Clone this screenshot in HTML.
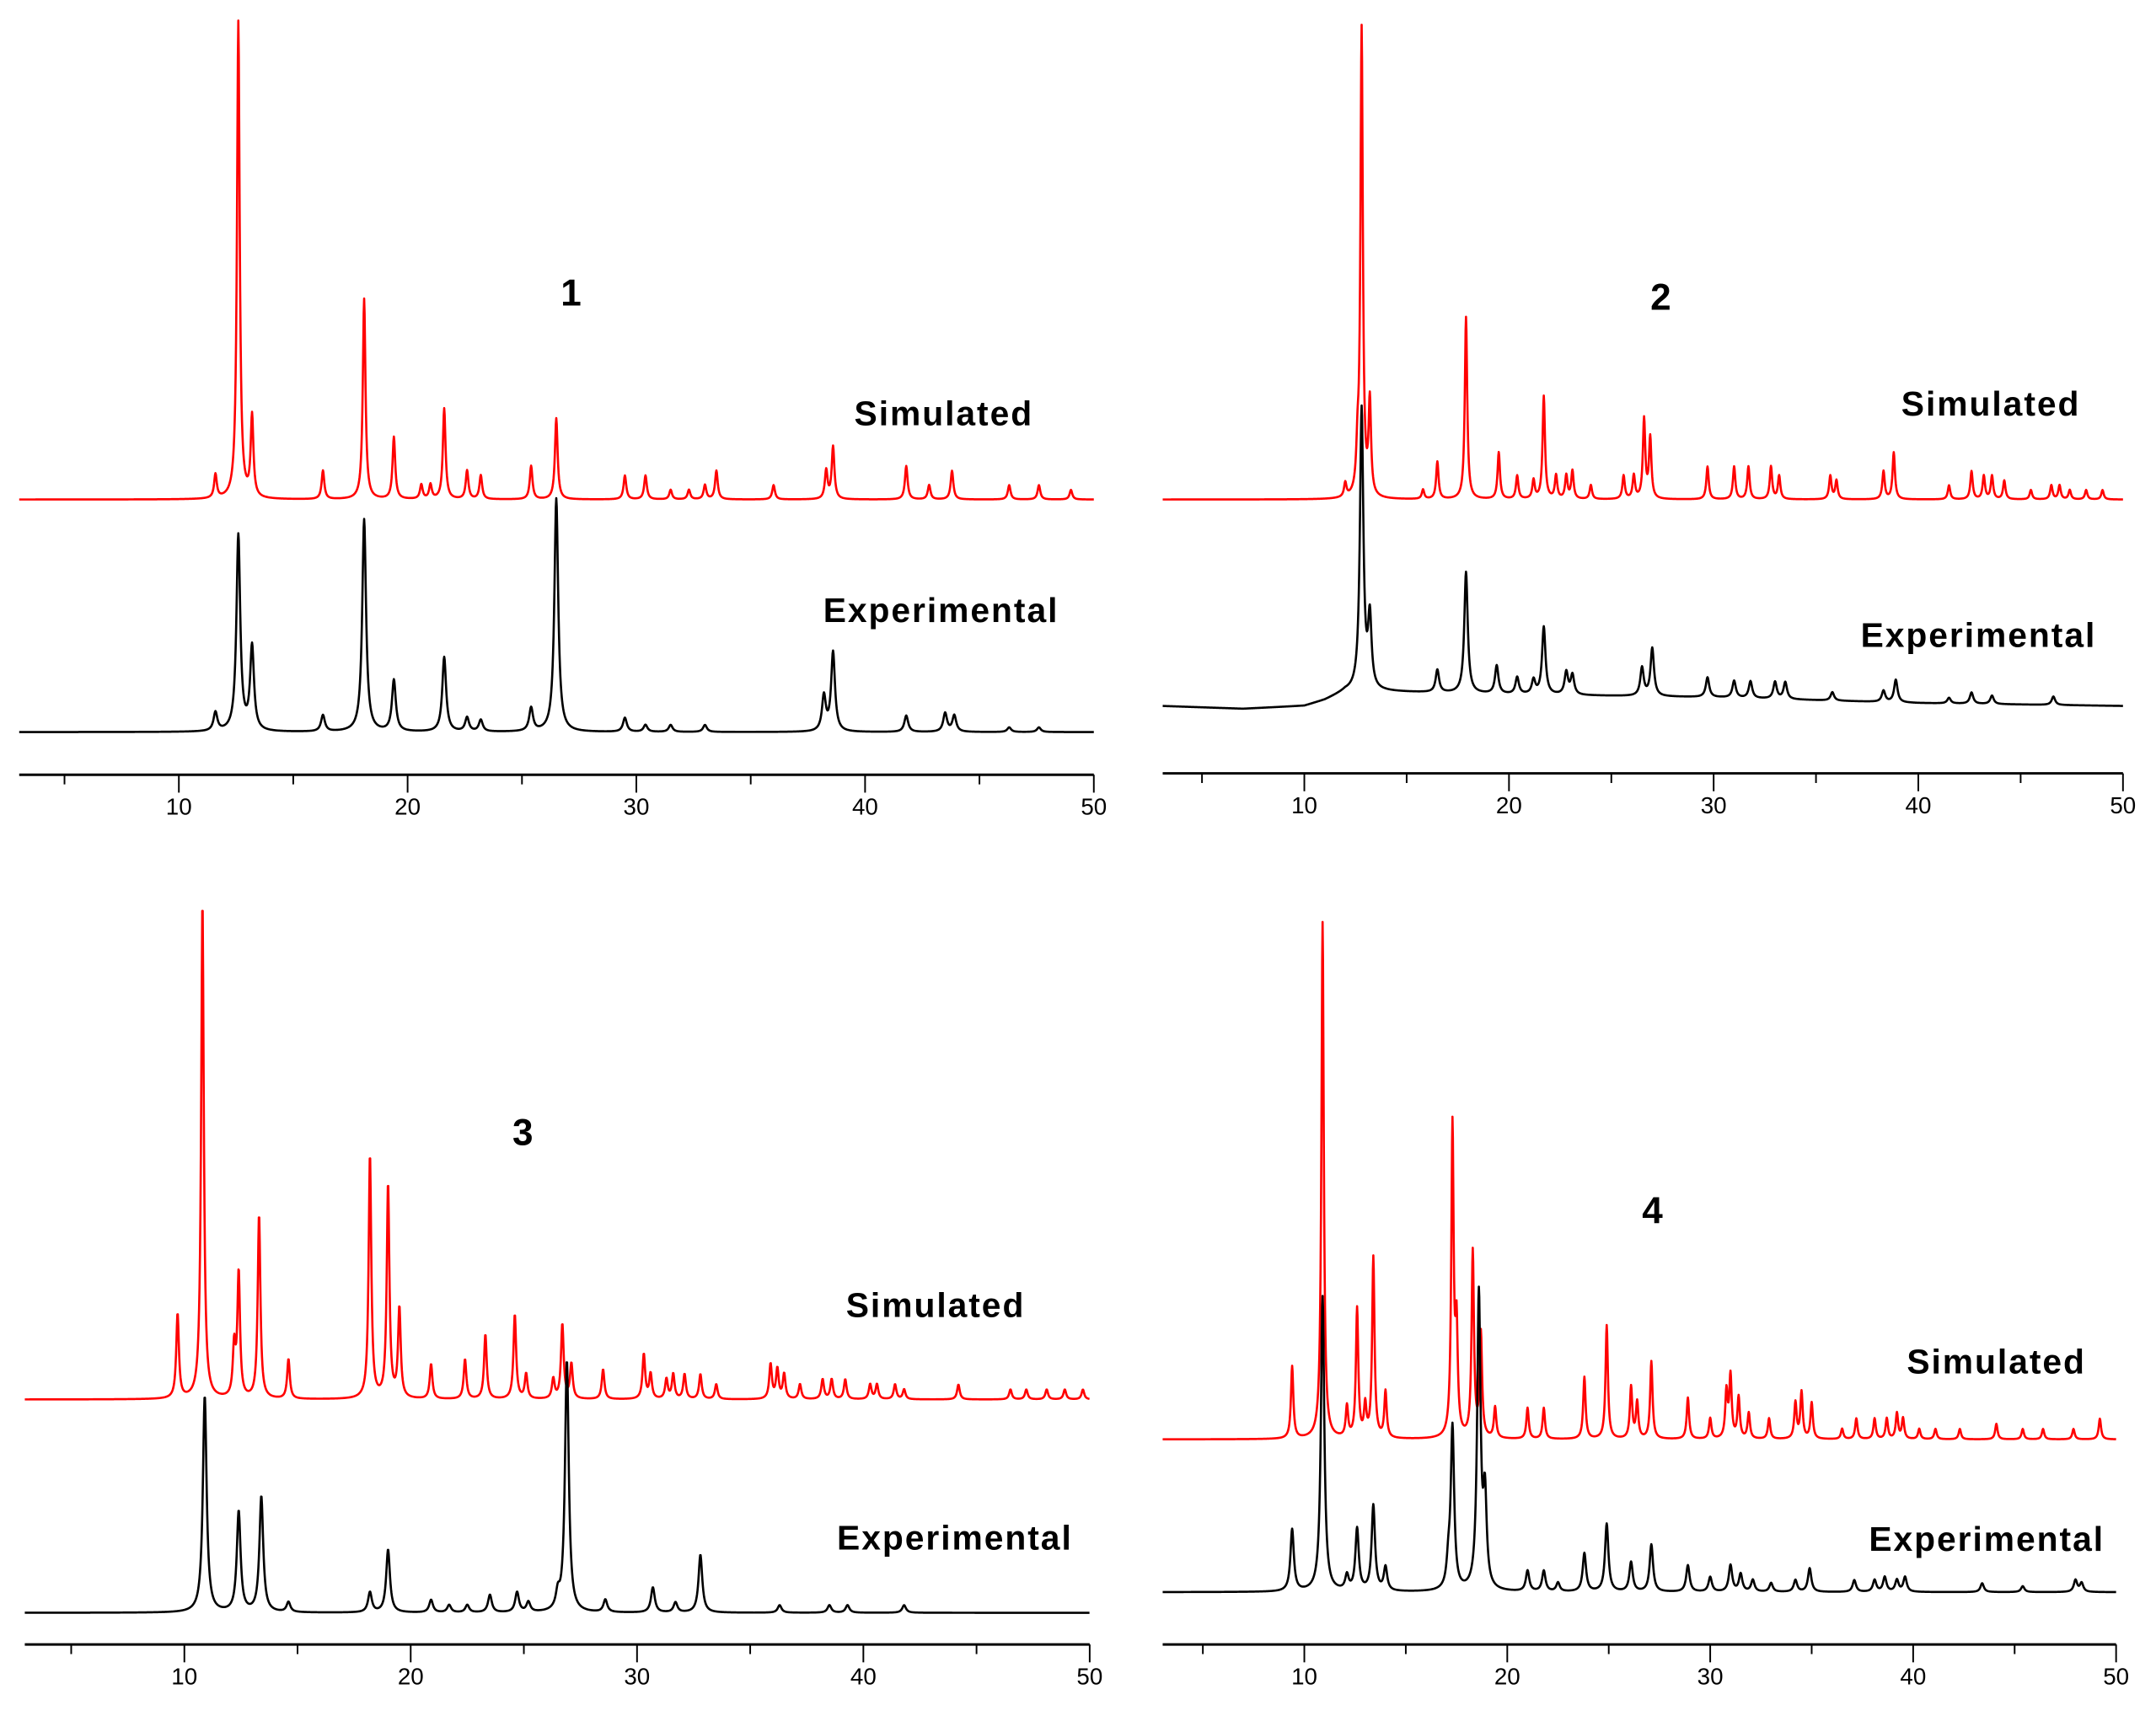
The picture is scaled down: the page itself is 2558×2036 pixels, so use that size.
<!DOCTYPE html>
<html><head><meta charset="utf-8"><style>
html,body{margin:0;padding:0;background:#fff;}
svg{display:block;}
text{font-family:"Liberation Sans",Arial,sans-serif;}
</style></head><body>
<svg id="fig" width="2558" height="2036" viewBox="0 0 1567 1247" preserveAspectRatio="none" xmlns="http://www.w3.org/2000/svg">
<rect width="1567" height="1247" fill="#fff"/>
</svg>
<script>
const p1SimPos=[11.6,12.6,13.2,16.3,18.1,19.4,20.6,21.0,21.6,22.6,23.2,25.4,26.5,29.5,30.4,31.5,32.3,33.0,33.5,36.0,38.3,38.6,41.8,42.8,43.8,46.3,47.6,49.0];
const p1SimInt=[0.05,1.0,0.17,0.06,0.42,0.13,0.03,0.03,0.19,0.06,0.05,0.07,0.17,0.05,0.05,0.02,0.02,0.03,0.06,0.03,0.06,0.11,0.07,0.03,0.06,0.03,0.03,0.02];
const p1ExpPos=[11.6,12.6,13.2,16.3,18.1,19.4,21.6,22.6,23.2,25.4,26.5,29.5,30.4,31.5,33.0,38.2,38.6,41.8,43.5,43.9,46.3,47.6];
const p1ExpInt=[0.08,0.84,0.36,0.07,0.91,0.22,0.32,0.06,0.05,0.1,1.0,0.06,0.03,0.03,0.03,0.15,0.34,0.07,0.08,0.07,0.02,0.02];

const p2SimPos=[12.0,12.6,12.8,13.2,15.8,16.5,17.9,19.5,20.4,21.2,21.7,22.3,22.8,23.1,24.0,25.6,26.1,26.6,26.9,29.7,31.0,31.7,32.8,33.2,35.7,36.0,38.3,38.8,41.5,42.6,43.2,43.6,44.2,45.5,46.5,46.9,47.4,48.2,49.0];
const p2SimInt=[0.03,0.08,1.0,0.2,0.02,0.08,0.39,0.1,0.05,0.04,0.22,0.05,0.05,0.06,0.03,0.05,0.05,0.17,0.13,0.07,0.07,0.07,0.07,0.05,0.05,0.04,0.06,0.1,0.03,0.06,0.05,0.05,0.04,0.02,0.03,0.03,0.02,0.02,0.02];
const p2ExpPos=[12.8,13.2,16.5,17.9,19.4,20.4,21.2,21.7,22.8,23.1,26.5,27.0,29.7,31.0,31.8,33.0,33.5,35.8,38.3,38.9,41.5,42.6,43.6,46.6];
const p2ExpInt=[1.0,0.25,0.08,0.43,0.1,0.06,0.05,0.24,0.08,0.07,0.1,0.17,0.07,0.06,0.06,0.06,0.06,0.03,0.04,0.08,0.02,0.04,0.03,0.03];
const p2BgPos=[3,7,10,11,12,14,20,30,40,50];
const p2BgVal=[0,-0.01,0,0.02,0.05,0.05,0.04,0.03,0.01,0];

const p3SimPos=[9.7,10.8,12.2,12.4,13.3,14.6,18.2,19.0,19.5,20.9,22.4,23.3,24.6,25.1,26.3,26.7,27.1,28.5,30.3,30.6,31.3,31.6,32.1,32.8,33.5,35.9,36.2,36.5,37.2,38.2,38.6,39.2,40.3,40.6,41.4,41.8,44.2,46.5,47.2,48.1,48.9,49.7];
const p3SimInt=[0.17,1.0,0.1,0.25,0.37,0.08,0.49,0.43,0.18,0.07,0.08,0.13,0.17,0.05,0.04,0.15,0.07,0.06,0.09,0.05,0.04,0.05,0.05,0.05,0.03,0.07,0.06,0.05,0.03,0.04,0.04,0.04,0.03,0.03,0.03,0.02,0.03,0.02,0.02,0.02,0.02,0.02];
const p3ExpPos=[10.9,12.4,13.4,14.6,18.2,19.0,20.9,21.7,22.5,23.5,24.7,25.2,26.5,26.9,28.6,30.7,31.7,32.8,36.3,38.5,39.3,41.8];
const p3ExpInt=[0.86,0.4,0.46,0.04,0.08,0.25,0.05,0.03,0.03,0.07,0.08,0.04,0.06,1.0,0.05,0.1,0.04,0.23,0.03,0.03,0.03,0.03];

const p4SimPos=[9.4,10.9,12.1,12.6,13.0,13.4,14.0,17.3,17.5,18.3,18.7,19.4,21.0,21.8,23.8,24.9,26.1,26.4,27.1,28.9,30.0,30.8,31.0,31.4,31.9,32.9,34.2,34.5,35.0,36.5,37.2,38.1,38.7,39.2,39.5,40.3,41.1,42.3,44.1,45.4,46.4,47.9,49.2];
const p4SimInt=[0.14,1.0,0.06,0.25,0.06,0.35,0.09,0.6,0.2,0.36,0.2,0.06,0.06,0.06,0.12,0.22,0.1,0.07,0.15,0.08,0.04,0.09,0.12,0.08,0.05,0.04,0.07,0.09,0.07,0.02,0.04,0.04,0.04,0.05,0.04,0.02,0.02,0.02,0.03,0.02,0.02,0.02,0.04];
const p4ExpPos=[9.4,10.9,12.1,12.6,13.4,14.0,17.1,17.3,18.6,18.9,21.0,21.8,22.5,23.8,24.9,26.1,27.1,28.9,30.0,31.0,31.5,32.1,33.0,34.2,34.9,37.1,38.1,38.6,39.2,39.6,43.4,45.4,48.0,48.3];
const p4ExpInt=[0.21,1.0,0.05,0.21,0.29,0.08,0.08,0.55,1.0,0.3,0.07,0.07,0.03,0.13,0.23,0.1,0.16,0.09,0.05,0.09,0.06,0.04,0.03,0.04,0.08,0.04,0.04,0.05,0.04,0.05,0.03,0.02,0.04,0.03];

const tickMajor=[10,20,30,40,50];
const tickMinor=[5,15,25,35,45];

const panels=[
 {id:1,x10:130,x50:795,xs:3.02,axisY:563,sim:{pos:p1SimPos,int:p1SimInt,base:363,top:15},exp:{pos:p1ExpPos,int:p1ExpInt,base:532,top:362},
  num:[415,222],simL:[686,309],expL:[684,452]},
 {id:2,x10:948,x50:1543,xs:3.08,axisY:562,sim:{pos:p2SimPos,int:p2SimInt,base:363,top:18},exp:{pos:p2ExpPos,int:p2ExpInt,base:513,top:305,bgPos:p2BgPos,bgVal:p2BgVal},
  num:[1207,225],simL:[1447,302],expL:[1438,470]},
 {id:3,x10:134,x50:792,xs:2.95,axisY:1195,sim:{pos:p3SimPos,int:p3SimInt,base:1017,top:662},exp:{pos:p3ExpPos,int:p3ExpInt,base:1172,top:990},
  num:[380,832],simL:[680,957],expL:[694,1126]},
 {id:4,x10:948,x50:1538,xs:3.02,axisY:1195,sim:{pos:p4SimPos,int:p4SimInt,base:1046,top:670},exp:{pos:p4ExpPos,int:p4ExpInt,base:1157,top:935},
  num:[1201,889],simL:[1451,998],expL:[1444,1127]}
];
const NS="http://www.w3.org/2000/svg";
const svg=document.getElementById('fig');
function mk(tag,attrs){const e=document.createElementNS(NS,tag);for(const k in attrs)e.setAttribute(k,attrs[k]);return e;}
function interp(xs,ys,x){if(!xs)return 0;if(x<=xs[0])return ys[0];for(let i=1;i<xs.length;i++){if(x<=xs[i]){const t=(x-xs[i-1])/(xs[i]-xs[i-1]);return ys[i-1]+t*(ys[i]-ys[i-1]);}}return ys[ys.length-1];}
function pattern(s,w,x0){
  const pts=[];let mx=0;
  for(let x=x0;x<=50.0001;x+=0.02){let v=0;for(let i=0;i<s.pos.length;i++){const d=(x-s.pos[i])/w;v+=s.int[i]/(1+d*d);}pts.push([x,v]);if(v>mx)mx=v;}
  return pts.map(p=>[p[0],p[1]/mx+interp(s.bgPos,s.bgVal,p[0])]);
}
panels.forEach(P=>{
  const g=mk('g',{});
  
  
  svg.appendChild(g);
  const X=v=>P.x10+(v-10)*(P.x50-P.x10)/40;
  [['sim','#f00',0.07],['exp','#000',0.1]].forEach(([k,col,w])=>{
    const s=P[k];const pts=pattern(s,w,P.xs);
    const Y=v=>s.base-v*(s.base-s.top);
    const d=pts.map((p,i)=>(i?'L':'M')+X(p[0]).toFixed(2)+' '+Y(p[1]).toFixed(2)).join('');
    const path=mk('path',{d:d,fill:'none',stroke:col,'stroke-width':1.6,'stroke-linejoin':'round'});
    
    
    g.appendChild(path);
  });
  const ax=mk('line',{x1:X(P.xs),x2:X(50),y1:P.axisY,y2:P.axisY,stroke:'#000','stroke-width':1.8});
  
  
  g.appendChild(ax);
  tickMajor.forEach(t=>{
    const l=mk('line',{x1:X(t),x2:X(t),y1:P.axisY,y2:P.axisY+13,stroke:'#000','stroke-width':1.2});
    
    
    g.appendChild(l);
    const tx=mk('text',{x:X(t),y:P.axisY+29,'text-anchor':'middle','font-size':17,fill:'#000'});
    tx.textContent=t;
    
    
    g.appendChild(tx);
  });
  tickMinor.forEach(t=>{
    const l=mk('line',{x1:X(t),x2:X(t),y1:P.axisY,y2:P.axisY+7,stroke:'#000','stroke-width':1.2});
    
    
    g.appendChild(l);
  });
  const n=mk('text',{x:P.num[0],y:P.num[1],'text-anchor':'middle','font-size':27,'font-weight':'bold',fill:'#000'});
  n.textContent=P.id;
  
  
  g.appendChild(n);
  const sl=mk('text',{x:P.simL[0],y:P.simL[1],'text-anchor':'middle','font-size':25,'font-weight':'bold','letter-spacing':1.2,fill:'#000'});
  sl.textContent='Simulated';
  
  
  g.appendChild(sl);
  const el=mk('text',{x:P.expL[0],y:P.expL[1],'text-anchor':'middle','font-size':25,'font-weight':'bold','letter-spacing':1.2,fill:'#000'});
  el.textContent='Experimental';
  
  
  g.appendChild(el);
});
</script>
</body></html>
